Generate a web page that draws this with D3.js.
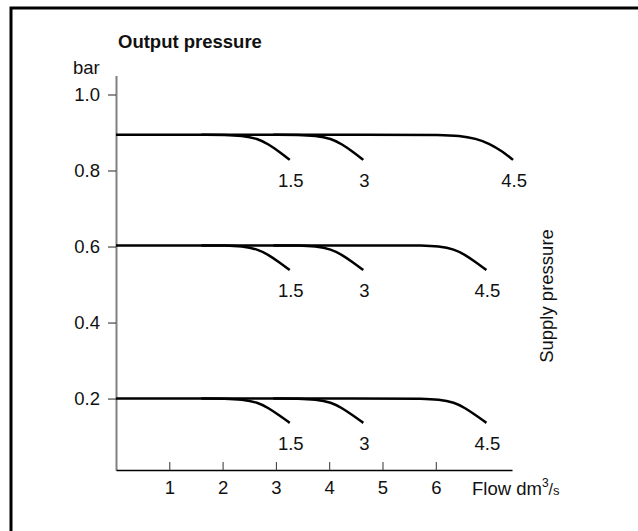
<!DOCTYPE html>
<html>
<head>
<meta charset="utf-8">
<script src="https://cdn.jsdelivr.net/npm/d3@7"></script>
<style>
  body { margin: 0; background: #fff; }
  svg text { font-family: "Liberation Sans", Arial, sans-serif; fill: #111; }
</style>
</head>
<body>
<div id="chart"></div>
<script>
// flow in dm3/s, output pressure in bar
var flowTicks = [1, 2, 3, 4, 5, 6];
var pressureTicks = [0.2, 0.4, 0.6, 0.8, 1.0];
var curveLabels = ["1.5", "3", "4.5"];

var topCurves = [
  [[1.6, 0.894], [2.06, 0.894], [2.36, 0.892], [2.66, 0.884], [2.86, 0.869], [3.06, 0.850], [3.26, 0.828]],
  [[2.95, 0.894], [3.44, 0.894], [3.74, 0.892], [4.04, 0.884], [4.24, 0.869], [4.44, 0.850], [4.64, 0.828]],
  [[0, 0.894], [5.5, 0.894], [6.05, 0.894], [6.45, 0.892], [6.75, 0.884], [7.01, 0.871], [7.25, 0.850], [7.45, 0.828]]
];
var midCurves = [
  [[1.6, 0.603], [2.06, 0.603], [2.36, 0.601], [2.66, 0.593], [2.86, 0.578], [3.06, 0.559], [3.26, 0.538]],
  [[2.95, 0.603], [3.44, 0.603], [3.74, 0.601], [4.04, 0.593], [4.24, 0.578], [4.44, 0.559], [4.64, 0.538]],
  [[0, 0.603], [5.2, 0.603], [5.75, 0.603], [6.05, 0.601], [6.35, 0.593], [6.55, 0.578], [6.75, 0.559], [6.95, 0.538]]
];
var lowCurves = [
  [[1.6, 0.200], [2.06, 0.200], [2.36, 0.198], [2.66, 0.190], [2.86, 0.175], [3.06, 0.156], [3.26, 0.136]],
  [[2.95, 0.200], [3.44, 0.200], [3.74, 0.198], [4.04, 0.190], [4.24, 0.175], [4.44, 0.156], [4.64, 0.136]],
  [[0, 0.200], [5.2, 0.200], [5.75, 0.200], [6.05, 0.198], [6.35, 0.190], [6.55, 0.175], [6.75, 0.156], [6.95, 0.136]]
];

var width = 638, height = 531;
var fontSize = 18.5;

var svg = d3.select("#chart").append("svg")
    .attr("width", width)
    .attr("height", height);

// frame (runs off the right and bottom edge)
svg.append("rect")
    .attr("x", 11)
    .attr("y", 8)
    .attr("width", 650)
    .attr("height", 560)
    .attr("fill", "none")
    .attr("stroke", "#000")
    .attr("stroke-width", 3);

var x = d3.scaleLinear()
    .domain([0, 7.43])
    .range([116, 512]);

var y = d3.scaleLinear()
    .domain([0.012, 1.05])
    .range([470, 75.5]);

// y axis
var yAxis = d3.axisLeft(y)
    .tickValues(pressureTicks)
    .tickFormat(d3.format(".1f"))
    .tickSize(8)
    .tickSizeOuter(0)
    .tickPadding(8);

var yAxisGroup = svg.append("g")
    .attr("transform", "translate(" + x(0) + ",0)")
    .call(yAxis);
yAxisGroup.attr("font-size", fontSize).attr("font-family", null);
yAxisGroup.select(".domain").attr("stroke", "#808080").attr("stroke-width", 2);
yAxisGroup.selectAll(".tick line").attr("stroke", "#222");

// x axis, ticks pointing up
var xAxis = d3.axisBottom(x)
    .tickValues(flowTicks)
    .tickFormat(d3.format("d"))
    .tickSizeInner(-8)
    .tickSizeOuter(0)
    .tickPadding(11);

var xAxisGroup = svg.append("g")
    .attr("transform", "translate(0," + y.range()[0] + ")")
    .call(xAxis);
xAxisGroup.attr("font-size", fontSize).attr("font-family", null);
xAxisGroup.select(".domain").attr("stroke", "#000").attr("stroke-width", 1.5);
xAxisGroup.selectAll(".tick line").attr("stroke", "#333");

// curves
var line = d3.line()
    .x(function(d){ return x(d[0]); })
    .y(function(d){ return y(d[1]); })
    .curve(d3.curveBasis);

[topCurves, midCurves, lowCurves].forEach(function(group){
  svg.append("g").selectAll("path")
      .data(group)
      .enter()
      .append("path")
      .attr("d", line)
      .attr("fill", "none")
      .attr("stroke", "#000")
      .attr("stroke-width", 2.5);

  svg.append("g").selectAll("text")
      .data(group)
      .enter()
      .append("text")
      .attr("x", function(d){ return x(d[d.length-1][0]) + 1; })
      .attr("y", function(d){ return y(d[d.length-1][1]) + 27; })
      .attr("text-anchor", "middle")
      .attr("font-size", fontSize)
      .text(function(d, i){ return curveLabels[i]; });
});

// titles
svg.append("text")
    .attr("x", 118)
    .attr("y", 48)
    .attr("font-size", 18.5)
    .attr("font-weight", "bold")
    .text("Output pressure");

svg.append("text")
    .attr("x", 73)
    .attr("y", 74)
    .attr("font-size", fontSize)
    .text("bar");

var flowLabel = svg.append("text")
    .attr("x", 472)
    .attr("y", 495)
    .attr("font-size", fontSize);
flowLabel.append("tspan").text("Flow dm");
flowLabel.append("tspan").attr("font-size", 12).attr("dy", -8).text("3");
flowLabel.append("tspan").attr("font-size", 16).attr("dy", 8).text("/");
flowLabel.append("tspan").attr("font-size", 13).text("s");

svg.append("text")
    .attr("transform", "translate(553,296) rotate(-90)")
    .attr("text-anchor", "middle")
    .attr("font-size", fontSize)
    .text("Supply pressure");
</script>
</body>
</html>
